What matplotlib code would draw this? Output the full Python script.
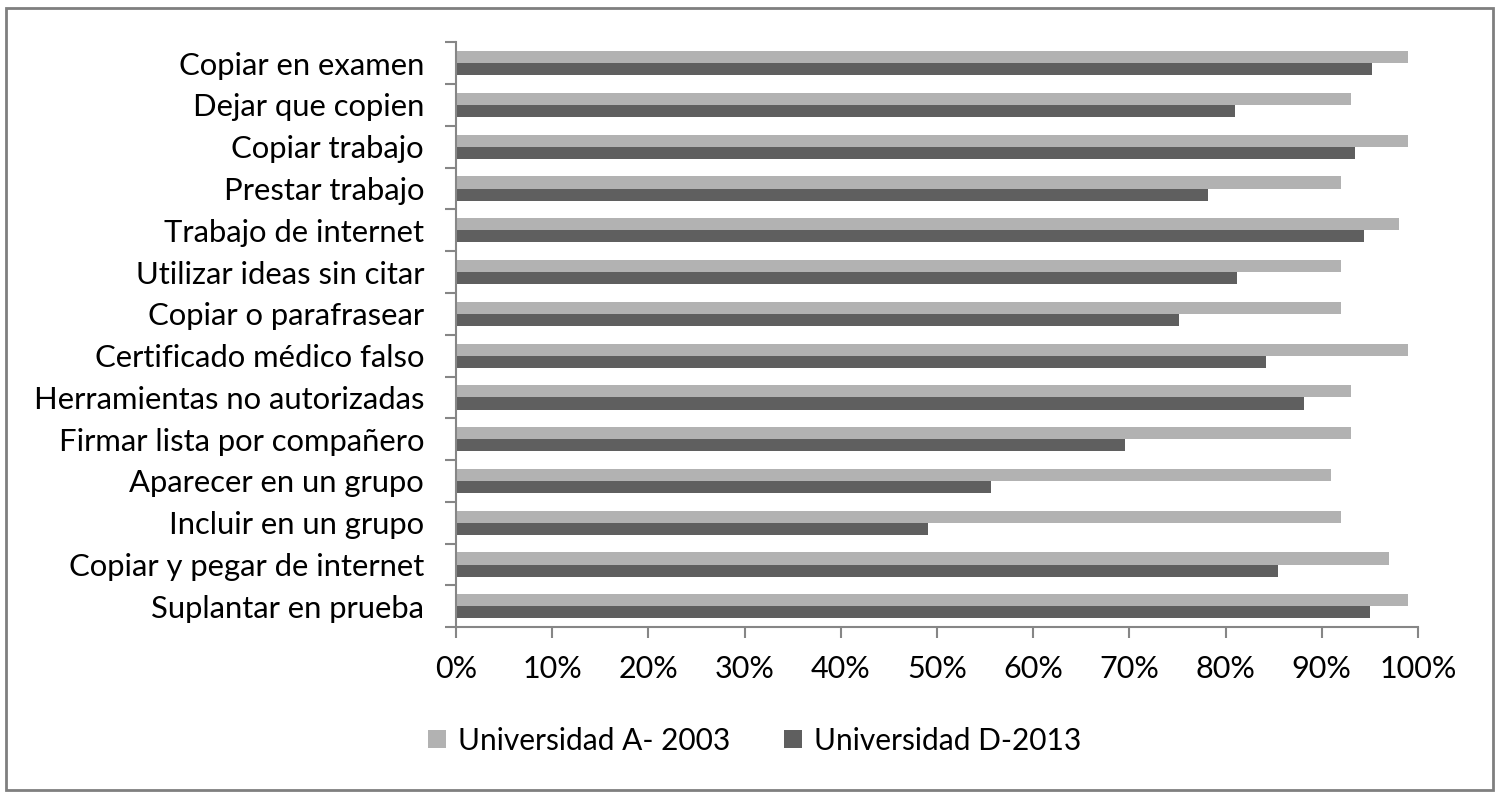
import numpy as np
import matplotlib.pyplot as plt
from matplotlib.patches import Rectangle
from matplotlib.ticker import PercentFormatter

categories = [
    "Copiar en examen", "Dejar que copien", "Copiar trabajo", "Prestar trabajo",
    "Trabajo de internet", "Utilizar ideas sin citar", "Copiar o parafrasear",
    "Certificado médico falso", "Herramientas no autorizadas",
    "Firmar lista por compañero", "Aparecer en un grupo", "Incluir en un grupo",
    "Copiar y pegar de internet", "Suplantar en prueba",
]
univ_a_2003 = [99, 93, 99, 92, 98, 92, 92, 99, 93, 93, 91, 92, 97, 99]
univ_d_2013 = [95.2, 81, 93.5, 78.2, 94.4, 81.2, 75.2, 84.2, 88.2, 69.5, 55.6, 49.1, 85.4, 95]
series_labels = ["Universidad A- 2003", "Universidad D-2013"]

plt.rcParams["font.family"] = ["Lato", "DejaVu Sans"]

fig = plt.figure(figsize=(15, 7.98), dpi=100)
ax = fig.add_axes([0.304, 0.214, 0.6413, 0.733])

y = np.arange(len(categories))
h = 0.29
ax.barh(y - h / 2, univ_a_2003, h, color="#b2b2b2", label=series_labels[0])
ax.barh(y + h / 2, univ_d_2013, h, color="#5f5f5f", label=series_labels[1])

ax.set_ylim(len(categories) - 0.5, -0.5)
ax.set_xlim(0, 100)
ax.set_yticks(y)
ax.set_yticklabels(categories, fontsize=22.3)
ax.tick_params(axis="y", which="major", length=0, pad=23)
ax.set_yticks(np.arange(-0.5, len(categories)), minor=True)
ax.tick_params(axis="y", which="minor", length=8, width=1.5, color="#868686")

ax.set_xticks(np.arange(0, 101, 10))
ax.xaxis.set_major_formatter(PercentFormatter(decimals=0))
ax.tick_params(axis="x", length=8, width=1.5, color="#868686", labelsize=22, pad=12)

for s in ["top", "right"]:
    ax.spines[s].set_visible(False)
for s in ["left", "bottom"]:
    ax.spines[s].set_color("#868686")
    ax.spines[s].set_linewidth(1.5)

fig.legend(loc="center", bbox_to_anchor=(0.503, 0.072), ncol=2, frameon=False,
           fontsize=21.5, handlelength=0.6, handleheight=0.6, handletextpad=0.4,
           columnspacing=1.8)

fig.patches.append(Rectangle((0.004, 0.01), 0.991, 0.98, transform=fig.transFigure,
                             fill=False, edgecolor="#7f7f7f", linewidth=2))

fig.savefig("out.png", dpi=100)
